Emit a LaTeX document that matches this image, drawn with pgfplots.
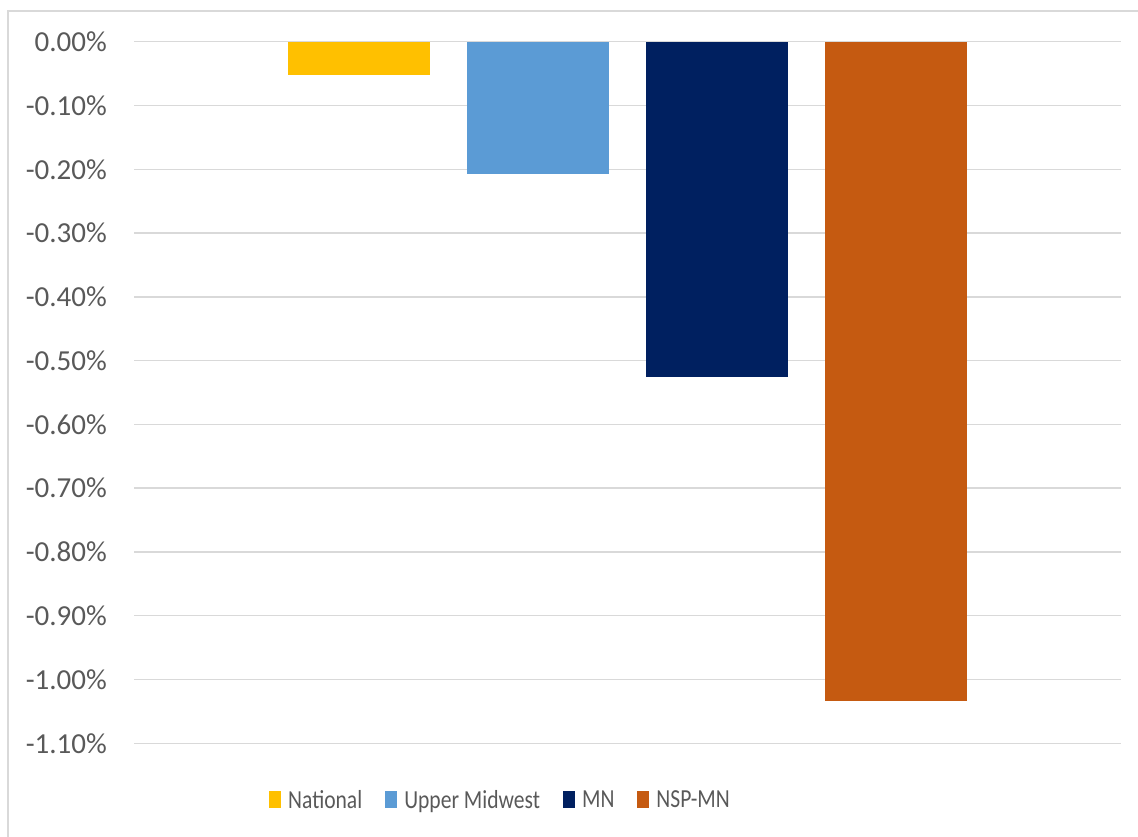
\documentclass[border=0pt]{standalone}
\usepackage{fontspec}
\setmainfont{Carlito}
\newfontfamily\legfont[FakeStretch=0.83]{Carlito}
\usepackage{pgfplots}
\pgfplotsset{compat=1.18}
\definecolor{cNat}{HTML}{FFC000}
\definecolor{cUM}{HTML}{5B9BD5}
\definecolor{cMN}{HTML}{002060}
\definecolor{cNSP}{HTML}{C55A11}
\definecolor{txt}{HTML}{595959}
\definecolor{gridc}{HTML}{D9D9D9}
\begin{document}
\begin{tikzpicture}[x=1pt,y=1pt]
\useasboundingbox (0,0) rectangle (1138,837);
\draw[gridc, line width=1.3pt] (8,-5) -- (8,826) -- (1145,826);
\begin{axis}[
  at={(134pt,93.7pt)}, anchor=south west,
  scale only axis, width=987pt, height=701.6pt,
  xmin=-0.257, xmax=5.257,
  ymin=-1.1, ymax=0,
  axis line style={draw=none},
  xtick=\empty,
  ytick={-1.1,-1.0,-0.9,-0.8,-0.7,-0.6,-0.5,-0.4,-0.3,-0.2,-0.1,0},
  yticklabels={-1.10\%,-1.00\%,-0.90\%,-0.80\%,-0.70\%,-0.60\%,-0.50\%,-0.40\%,-0.30\%,-0.20\%,-0.10\%,0.00\%},
  major tick length=0pt,
  yticklabel style={font=\fontsize{29}{34}\selectfont, text=txt, inner sep=0pt, xshift=-27pt},
  ymajorgrids,
  major grid style={draw=gridc, line width=1.4pt},
  ybar, bar width=142pt, bar shift=0pt,
  legend columns=4,
  legend style={at={(0.3703,-0.0808)}, anchor=center, draw=none, fill=none,
    font=\legfont\fontsize{26}{30}\selectfont, text=txt,
    inner sep=0pt, outer sep=0pt,
    nodes={inner sep=0pt},
    /tikz/every odd column/.append style={column sep=7pt},
    /tikz/every even column/.append style={column sep=23pt}},
  legend image code/.code={\fill[#1] (0pt,-8.5pt) rectangle (12pt,8.5pt);},
  clip=false
]
\addplot[fill=cNat, draw=none] coordinates {(1,-0.052)};
\addplot[fill=cUM, draw=none] coordinates {(2,-0.207)};
\addplot[fill=cMN, draw=none] coordinates {(3,-0.526)};
\addplot[fill=cNSP, draw=none] coordinates {(4,-1.034)};
\legend{National, Upper Midwest, MN, NSP-MN}
\end{axis}
\end{tikzpicture}
\end{document}
